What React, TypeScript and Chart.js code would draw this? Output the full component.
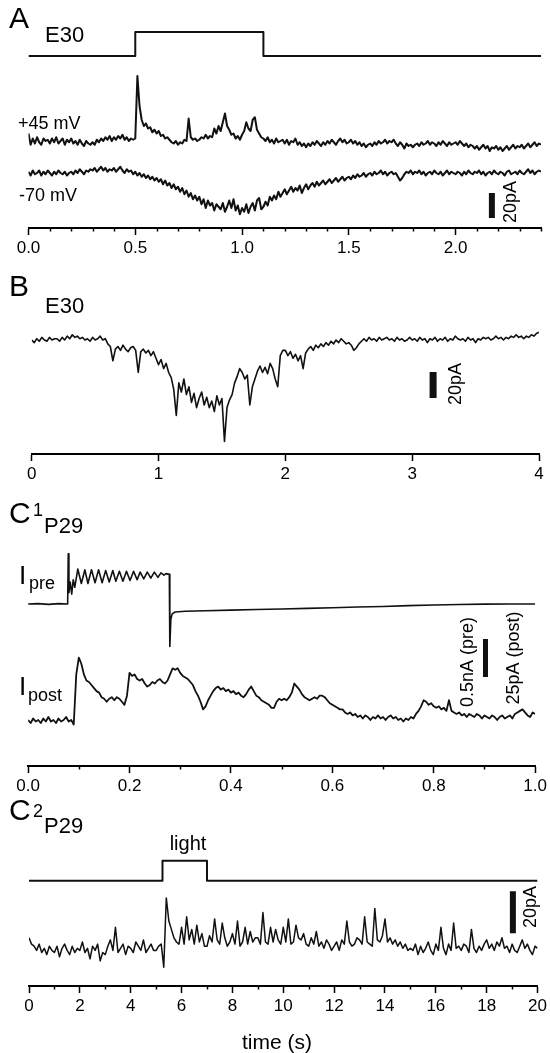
import React, { useEffect, useRef } from 'react';
import { Chart, registerables } from 'chart.js';

Chart.register(...registerables);

const FONT = '"Liberation Sans", Arial, Helvetica, sans-serif';

// ---------------- Panel A: E30, time 0–2.4 s (10 ms samples) ----------------
const aStep = 0.01;
const aStimT = [0, 0.5, 0.5, 1.1, 1.1, 2.4];
const aStimV = [0, 0, 1, 1, 0, 0];
// holding +45 mV, pA relative to baseline
const aPos45 = [
  6, -3, 2, -2, 3, -1, -3, 2, 0, 1,
  -2, 2, -1, 3, -2, 0, 2, -3, 1, -1,
  2, -2, 0, -3, 1, -2, -4, 0, -2, -3,
  -1, -3, 1, -1, 2, 0, 3, 1, 4, 0,
  3, 1, 4, 2, 5, 1, 3, 0, 2, 1,
  2, 52, 28, 17, 12, 14, 10, 11, 7, 9,
  6, 8, 4, 5, 2, 3, 1, -1, -2, 0,
  -3, -1, -2, 1, 0, 18, 3, 1, 2, 0,
  1, 3, 2, 5, 2, 4, 3, 10, 6, 12,
  8, 15, 22, 12, 9, 5, 6, 2, 4, 1,
  5, 8, 15, 10, 8, 17, 19, 9, 6, 3,
  2, 0, 3, -1, 1, -2, 2, -1, 0, 1,
  -2, 1, -3, 0, -1, 2, -3, -1, -4, -2,
  -5, -2, -4, -1, -3, 0, -2, -4, -1, -3,
  0, -2, 1, -1, -3, 0, 2, -1, 1, -2,
  -1, 1, -2, 0, -3, -1, -4, -2, -5, -3,
  -2, -4, -1, -3, 0, -2, -1, 1, -2, 0,
  -1, 1, -2, -4, -1, -3, -6, -2, -4, -3,
  -5, -3, -2, -4, -1, -3, -2, 0, -3, -1,
  -2, -4, -1, -3, 0, -2, -4, -1, -3, -2,
  -1, -3, 0, -2, -4, -2, -5, -3, -4, -6,
  -4, -7, -5, -3, -6, -4, -8, -5, -6, -4,
  -7, -5, -8, -6, -4, -7, -5, -3, -6, -4,
  -5, -3, -6, -4, -2, -5, -3, -1, -4, -2,
  -3,
];
// holding -70 mV, pA relative to baseline
const aNeg70 = [
  1, -2, 2, -1, 0, 2, -2, 1, -1, 2,
  0, -2, 1, -1, 2, 0, -1, 1, -2, 0,
  1, -1, 2, 0, 3, 1, -1, 2, 1, 3,
  2, 4, 1, 3, 5, 2, 4, 1, 3, 2,
  4, 1, 3, 5, 2, 0, 3, 1, 2, -1,
  1, -2, 0, -3, -1, -4, -2, -5, -3, -6,
  -4, -7, -5, -9, -6, -10, -8, -12, -9, -13,
  -11, -15, -12, -17, -14, -19, -16, -21, -18, -22,
  -19, -25, -21, -28, -22, -26, -24, -30, -25, -27,
  -29, -24, -31, -27, -22, -28, -21, -30, -26, -33,
  -28, -31, -25, -32, -27, -24, -30, -22, -20, -29,
  -27, -23, -26, -19, -22, -18, -21, -15, -19, -16,
  -13, -17, -14, -11, -15, -12, -14, -10, -16, -12,
  -9, -13, -10, -8, -11, -7, -10, -8, -6, -9,
  -7, -5, -8, -6, -4, -7, -5, -3, -6, -4,
  -3, -5, -2, -4, -1, -3, -2, 0, -3, -1,
  0, -2, 1, -1, 0, 2, -1, 1, -2, 0,
  1, -1, 0, -3, -6, -4, -1, 1, 0, 2,
  -1, 1, 0, 2, -1, 1, -2, 0, 1, -1,
  2, 0, -1, 1, -2, 0, 2, -1, 1, 0,
  -1, 1, 0, -2, 1, -1, 2, 0, -1, 1,
  0, 2, -1, 1, -2, 0, 1, -1, 2, 0,
  -1, 1, 0, -2, 1, 2, -1, 0, 1, -1,
  2, 0, -1, 1, 3, 0, 2, -1, 1, 2,
  1,
];
const aTicks = [0, 0.5, 1.0, 1.5, 2.0];
const aMinor = [0.1, 0.2, 0.3, 0.4, 0.6, 0.7, 0.8, 0.9, 1.1, 1.2, 1.3, 1.4, 1.6, 1.7, 1.8, 1.9, 2.1, 2.2, 2.3, 2.4];
const aBarX = 2.17;
const aBarPA = 20;

// ---------------- Panel B: E30, time 0–4 s (20 ms samples) ----------------
const bStep = 0.02;
const bTrace = [
  0, -2, 1, -1, 2, 0, -1, 2, 0, 1,
  1, -1, 2, 0, 3, 1, 4, 2, 3, 1,
  2, 0, 1, -1, 2, 0, 1, 3, 0, 1,
  -3, -5, -16, -7, -5, -8, -4, -7, -9, -6,
  -5, -8, -25, -9, -7, -10, -8, -12, -9, -14,
  -19, -15, -22, -18, -25, -29, -38, -58, -33, -40,
  -30, -42, -36, -48, -41, -52, -45, -40, -50, -44,
  -52, -47, -55, -43, -50, -45, -78, -52, -46, -42,
  -33, -28, -22, -25, -30, -27, -50, -36, -30, -24,
  -20, -25, -21, -26, -18, -22, -30, -36, -12, -8,
  -8, -12, -9, -14, -11, -16, -12, -22, -10, -7,
  -5, -8, -4, -6, -3, -5, -2, -4, -1, -3,
  0, -2, 1, -1, -3, -2, -4, -8, -6, -3,
  -1, 1, -1, 2, 0, 1, -1, 2, 0, 1,
  2, 0, 1, -1, 2, 0, 1, -1, 0, 2,
  0, 1, -1, 2, 0, 1, -2, 1, 0, 2,
  -1, 1, 0, 2, -1, 1, 0, 3, 1, 0,
  1, -1, 2, 0, 1, -2, 1, 0, 2, 1,
  2, 0, 1, 3, 1, 2, 0, 2, 1, 3,
  2, 4, 2, 3, 1, 3, 2, 4, 3, 5,
  6,
];
const bTicks = [0, 1, 2, 3, 4];
const bMinor: number[] = [];
const bBarX = 3.165;
const bBarPA = 20;

// ---------------- Panel C1: P29, time 0–1 s ----------------
// presynaptic current (nA), sampled at irregular times
const c1PreT = [
  0, 0.02, 0.04, 0.06, 0.078, 0.0792, 0.0805, 0.083, 0.086, 0.089, 0.092,
  0.098, 0.105, 0.112, 0.118, 0.125, 0.132, 0.139, 0.146, 0.153, 0.16,
  0.167, 0.173, 0.18, 0.187, 0.194, 0.201, 0.208, 0.215, 0.221, 0.228,
  0.235, 0.242, 0.249, 0.256, 0.262, 0.268, 0.272, 0.2785, 0.2795, 0.2815,
  0.284, 0.29, 0.31, 0.35, 0.4, 0.45, 0.5, 0.55, 0.6, 0.65, 0.7, 0.75,
  0.8, 0.85, 0.9, 0.95, 1.0,
];
const c1PreV = [
  0, 0.005, -0.005, 0.005, 0, 0.66, 0.15, 0.29, 0.13, 0.32, 0.22,
  0.46, 0.27, 0.45, 0.27, 0.45, 0.28, 0.45, 0.28, 0.44, 0.29,
  0.44, 0.3, 0.43, 0.3, 0.43, 0.31, 0.43, 0.32, 0.42, 0.33,
  0.42, 0.34, 0.42, 0.35, 0.41, 0.38, 0.4, 0.39, -0.56, -0.2,
  -0.13, -0.105, -0.095, -0.088, -0.08, -0.072, -0.065, -0.058, -0.05, -0.04, -0.032, -0.022,
  -0.014, -0.007, -0.002, 0, 0,
];
// postsynaptic current (pA), 5 ms samples
const c1Step = 0.005;
const c1Post = [
  0, -2, 1, -1, 0, -2, 1, -1, 2, -1,
  0, -2, 1, -1, 0, 2, -1, 0, -3, 30,
  41, 37, 30, 26, 25, 23, 21, 19, 18, 15,
  14, 12, 14, 15, 13, 15, 14, 12, 10, 16,
  31, 29, 30, 27, 26, 27, 24, 22, 23, 25,
  24, 26, 27, 25, 24, 26, 30, 34, 33, 34,
  31, 29, 28, 27, 25, 23, 19, 16, 12, 7,
  9, 13, 16, 19, 21, 22, 20, 21, 19, 20,
  18, 19, 17, 18, 16, 15, 17, 20, 22, 19,
  16, 15, 13, 12, 11, 10, 8, 8, 12, 14,
  13, 14, 13, 15, 18, 24, 22, 20, 17, 15,
  14, 13, 14, 15, 14, 16, 16, 15, 13, 11,
  10, 9, 8, 7, 7, 5, 4, 5, 3, 4,
  2, 3, 1, 3, 2, 0, 2, 1, 3, 1,
  2, 0, 2, 3, 1, 2, 0, 1, -1, 1,
  0, 2, 1, 4, 6, 9, 13, 12, 10, 11,
  9, 8, 9, 7, 8, 6, 13, 6, 5, 4,
  5, 3, 4, 2, 4, 3, 2, 4, 3, 1,
  3, 2, 1, 3, 2, 0, 2, 3, 1, 2,
  3, 1, 4, 5, 6, 7, 5, 3, 2, 5,
  4,
];
const c1Ticks = [0, 0.2, 0.4, 0.6, 0.8, 1.0];
const c1Minor = [0.1, 0.3, 0.5, 0.7, 0.9];
const c1BarX = 0.902;
const c1BarPA = 25; // = 0.5 nA for the presynaptic trace
const c1PAperNA = 50;

// ---------------- Panel C2: P29, light, time 0–20 s (100 ms samples) ----------------
const c2Step = 0.1;
const c2LightT = [0, 5.25, 5.25, 7.0, 7.0, 20];
const c2LightV = [0, 0, 1, 1, 0, 0];
const c2Trace = [
  5, 2, 1, -1, 2, -2, 0, -3, 1, -1,
  -2, 1, -4, 0, 2, -1, -3, 1, -2, 0,
  -1, 3, -2, 0, -5, 1, -1, 2, -6, -2,
  -3, 1, 4, -1, 10, -2, 0, 2, -3, 1,
  0, -2, 3, 1, -1, 4, -2, 0, 2, -1,
  -1, 1, 2, -9, 24, 13, 9, 5, 3, 2,
  10, 2, 15, 4, 9, 2, 11, 3, 7, 1,
  1, 6, 3, 14, 4, 2, 12, 5, 1, 3,
  7, 2, 13, 1, 3, 10, 2, 8, 3, 5,
  5, 2, 17, 3, 2, 10, 3, 9, 4, 2,
  10, 3, 14, 2, 3, 11, 5, 4, 7, 2,
  1, 5, 2, 8, 1, 3, 0, 4, 2, -1,
  1, 3, -1, 4, 2, 13, 3, 1, 2, 5,
  4, 2, 15, 3, 2, 1, 19, 4, 3, 6,
  14, 3, 5, 2, 4, 1, 3, 0, 2, -1,
  0, -1, 2, -3, 1, -2, 0, 3, -1, -3,
  2, -1, 10, 0, -3, 2, -1, 12, 0, 1,
  -1, 2, 1, -2, 9, 0, -2, 1, -1, 2,
  4, 0, 2, -1, 3, 1, 5, 0, 1, -2,
  2, -1, -2, 1, 4, 0, 2, -1, -3, 1,
  0,
];
const c2Ticks = [0, 2, 4, 6, 8, 10, 12, 14, 16, 18, 20];
const c2Minor = [1, 3, 5, 7, 9, 11, 13, 15, 17, 19];
const c2BarX = 19.03;
const c2BarPA = 20;

// ---------------- layout helpers ----------------
type Txt = { t: string; x: number; y: number; size: number; align?: CanvasTextAlign; base?: CanvasTextBaseline; rot?: boolean };

interface PanelCfg {
  top: number; height: number; areaH: number; padL: number; padR: number;
  k: number; xMin: number; xMax: number; ticks: number[]; minor: number[]; digits: number;
  majorLen: number; minorLen: number;
  build: (toY: (px: number) => number, k: number) => any[];
  texts: Txt[];
}

const series = (vals: number[], step: number, base: number, scale = 1) =>
  vals.map((v, i) => ({ x: +(i * step).toFixed(4), y: base + v * scale }));
const pairs = (ts: number[], vs: number[], base: number, scale = 1) =>
  ts.map((t, i) => ({ x: t, y: base + vs[i] * scale }));
const line = (data: any[], w: number, color = '#111') => ({
  data, borderColor: color, borderWidth: w, pointRadius: 0, tension: 0, fill: false,
  borderJoinStyle: 'round', borderCapStyle: 'butt',
});
const bar = (x: number, y0: number, y1: number, w: number) => line([{ x, y: y0 }, { x, y: y1 }], w, '#111');

const panels: PanelCfg[] = [
  {
    top: 0, height: 258, areaH: 228, padL: 28.5, padR: 9, k: 1.25, xMin: 0, xMax: 2.4,
    ticks: aTicks, minor: aMinor, digits: 1, majorLen: 7, minorLen: 3.5,
    build: (toY, k) => [
      line(pairs(aStimT, aStimV, toY(56), 24 / k), 2),
      line(series(aPos45, aStep, toY(141)), 2),
      line(series(aNeg70, aStep, toY(173)), 2),
      bar(aBarX, toY(218), toY(218) + aBarPA, 6),
    ],
    texts: [
      { t: 'A', x: 9, y: 28, size: 30 },
      { t: 'E30', x: 45, y: 42, size: 22 },
      { t: '+45 mV', x: 18, y: 129, size: 18 },
      { t: '-70 mV', x: 19, y: 201, size: 18 },
      { t: '20pA', x: 511, y: 202, size: 18, rot: true },
    ],
  },
  {
    top: 262, height: 222, areaH: 192, padL: 31.7, padR: 11, k: 1.3, xMin: 0, xMax: 4,
    ticks: bTicks, minor: bMinor, digits: 0, majorLen: 7, minorLen: 3.5,
    build: (toY) => [
      line(series(bTrace, bStep, toY(340)), 1.6),
      bar(bBarX, toY(398), toY(398) + bBarPA, 7),
    ],
    texts: [
      { t: 'B', x: 9, y: 296, size: 30 },
      { t: 'E30', x: 45, y: 313, size: 22 },
      { t: '20pA', x: 456, y: 384, size: 18, rot: true },
    ],
  },
  {
    top: 495, height: 301, areaH: 271, padL: 28.1, padR: 10.5, k: 1.52, xMin: 0, xMax: 1,
    ticks: c1Ticks, minor: c1Minor, digits: 1, majorLen: 7, minorLen: 3.5,
    build: (toY) => [
      line(pairs(c1PreT, c1PreV, toY(604), c1PAperNA), 1.6),
      line(series(c1Post, c1Step, toY(720)), 1.8),
      bar(c1BarX, toY(677), toY(677) + c1BarPA, 5),
    ],
    texts: [
      { t: 'C', x: 9, y: 523, size: 30 },
      { t: '1', x: 33, y: 516, size: 18 },
      { t: 'P29', x: 44, y: 533, size: 22 },
      { t: 'I', x: 19, y: 584, size: 26 },
      { t: 'pre', x: 29, y: 589, size: 18 },
      { t: 'I', x: 19, y: 695, size: 26 },
      { t: 'post', x: 28, y: 701, size: 18 },
      { t: '0.5nA (pre)', x: 468, y: 662, size: 18, rot: true },
      { t: '25pA (post)', x: 514, y: 658, size: 18, rot: true },
    ],
  },
  {
    top: 790, height: 263, areaH: 196, padL: 29, padR: 11.5, k: 2.1, xMin: 0, xMax: 20,
    ticks: c2Ticks, minor: c2Minor, digits: 0, majorLen: 7, minorLen: 3.5,
    build: (toY, k) => [
      line(pairs(c2LightT, c2LightV, toY(880.7), 20 / k), 2),
      line(series(c2Trace, c2Step, toY(948.3)), 1.5),
      bar(c2BarX, toY(933.3), toY(933.3) + c2BarPA, 6),
    ],
    texts: [
      { t: 'C', x: 9, y: 820, size: 30 },
      { t: '2', x: 33, y: 817, size: 18 },
      { t: 'P29', x: 44, y: 833, size: 22 },
      { t: 'light', x: 188, y: 850, size: 20, align: 'center' },
      { t: '20pA', x: 531, y: 907, size: 18, rot: true },
      { t: 'time (s)', x: 277, y: 1043, size: 21, align: 'center', base: 'middle' },
    ],
  },
];

function Panel({ cfg }: { cfg: PanelCfg }) {
  const ref = useRef<HTMLCanvasElement | null>(null);
  useEffect(() => {
    const canvas = ref.current;
    if (!canvas) return;
    const axisH = 30;
    const padB = cfg.height - cfg.areaH - axisH;
    const toY = (px: number) => (cfg.top + cfg.areaH - px) / cfg.k;
    const datasets = cfg.build(toY, cfg.k);

    const deco = {
      id: 'deco',
      afterDraw(chart: any) {
        const ctx = chart.ctx as CanvasRenderingContext2D;
        const xs = chart.scales.x;
        const yb = chart.chartArea.bottom;
        ctx.save();
        ctx.strokeStyle = '#000';
        ctx.lineWidth = 1.5;
        for (const v of cfg.minor) {
          const px = Math.round(xs.getPixelForValue(v)) + 0.5;
          ctx.beginPath();
          ctx.moveTo(px, yb);
          ctx.lineTo(px, yb + cfg.minorLen);
          ctx.stroke();
        }
        ctx.fillStyle = '#000';
        for (const t of cfg.texts) {
          ctx.font = `${t.size}px ${FONT}`;
          const y = t.y - cfg.top;
          if (t.rot) {
            ctx.save();
            ctx.translate(t.x, y);
            ctx.rotate(-Math.PI / 2);
            ctx.textAlign = 'center';
            ctx.textBaseline = 'middle';
            ctx.fillText(t.t, 0, 0);
            ctx.restore();
          } else {
            ctx.textAlign = t.align || 'left';
            ctx.textBaseline = t.base || 'alphabetic';
            ctx.fillText(t.t, t.x, y);
          }
        }
        ctx.restore();
      },
    };

    const chart = new Chart(canvas, {
      type: 'line',
      data: { datasets },
      options: {
        responsive: false,
        animation: false,
        events: [],
        layout: { autoPadding: false, padding: { top: 0, left: cfg.padL, right: cfg.padR, bottom: padB } },
        plugins: { legend: { display: false }, tooltip: { enabled: false }, title: { display: false } },
        scales: {
          x: {
            type: 'linear',
            min: cfg.xMin,
            max: cfg.xMax,
            afterBuildTicks: (scale: any) => { scale.ticks = cfg.ticks.map((v) => ({ value: v })); },
            afterFit: (scale: any) => { scale.height = axisH; },
            grid: { drawOnChartArea: false, drawTicks: true, tickLength: cfg.majorLen, tickWidth: 1.5, tickColor: '#000', color: '#000' },
            border: { display: true, color: '#000', width: 2 },
            ticks: {
              autoSkip: false, maxRotation: 0, padding: 3, color: '#000',
              font: { size: 17, family: FONT },
              callback: (v: any) => Number(v).toFixed(cfg.digits),
            },
          },
          y: { type: 'linear', display: false, min: 0, max: cfg.areaH / cfg.k },
        },
      } as any,
      plugins: [deco],
    });
    return () => chart.destroy();
  }, [cfg]);
  return (
    <canvas
      ref={ref}
      width={550}
      height={cfg.height}
      style={{ position: 'absolute', left: 0, top: cfg.top, width: 550, height: cfg.height }}
    />
  );
}

export default function App() {
  return (
    <div style={{ position: 'absolute', left: 0, top: 0, width: 550, height: 1053, background: '#fff', overflow: 'hidden' }}>
      {panels.map((p, i) => (
        <Panel key={i} cfg={p} />
      ))}
    </div>
  );
}
